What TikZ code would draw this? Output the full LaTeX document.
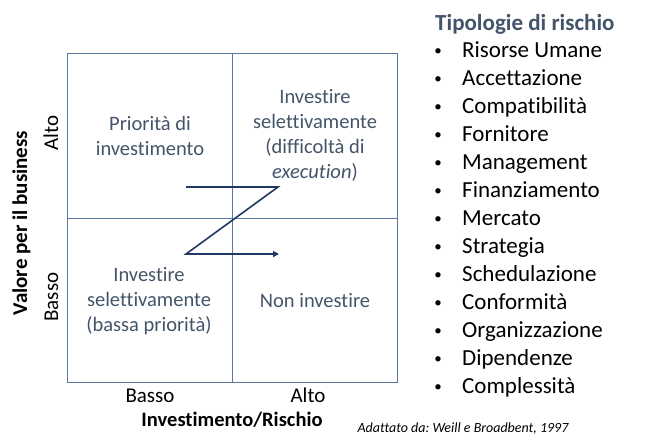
\documentclass[tikz,border=0pt]{standalone}
\usepackage{fontspec}
\setmainfont{Carlito}[Ligatures=CommonOff]
\usetikzlibrary{arrows.meta}
\definecolor{gridc}{HTML}{5A78A0}
\definecolor{cellc}{HTML}{44546A}
\definecolor{zc}{HTML}{1F3864}
\frenchspacing
\begin{document}
\begin{tikzpicture}[x=1pt,y=-1pt,
  celltext/.style={text=cellc,align=center,font=\fontsize{20.5}{25}\selectfont,inner sep=0pt},
  axlab/.style={text=black,font=\fontsize{21}{24}\selectfont,inner sep=0pt,anchor=base},
  item/.style={text=black,font=\fontsize{23}{28}\selectfont,anchor=base west,inner sep=0pt},
  bul/.style={text=black,font=\fontsize{15}{18}\selectfont,inner sep=0pt}]
\useasboundingbox (0,0) rectangle (660,445);
% grid
\draw[gridc,line width=1pt] (67,53) rectangle (397,382);
\draw[gridc,line width=0.8pt] (232,53) -- (232,382);
\draw[gridc,line width=0.8pt] (67,218) -- (397,218);
% cell texts
\node[celltext] (q1) at (150,135.5) {Priorità di\\investimento};
\node[celltext] (q2) at (315,135) {Investire\\selettivamente\\(difficoltà di\\\textit{execution})};
\node[celltext] (q3) at (149,301) {Investire\\selettivamente\\(bassa priorità)};
\node[celltext] (q4) at (315,301) {Non investire};
% Z arrow
\coordinate (z1) at (186,187);
\coordinate (z2) at (278,187);
\coordinate (z3) at (186,254);
\coordinate (z4) at (279,254);
\draw[zc,line width=1.6pt,-{Triangle[length=6pt,width=6pt]}] (z1) -- (z2) -- (z3) -- (z4);
% axis labels
\node[axlab,rotate=90] (yalto) at (58,133) {Alto};
\node[axlab,rotate=90] (ybasso) at (58,297) {Basso};
\node[axlab,rotate=90,font=\fontsize{21}{24}\selectfont\bfseries] (ytitle) at (27,223) {Valore per il business};
\node[axlab] (xbasso) at (150,402) {Basso};
\node[axlab] (xalto) at (308,402) {Alto};
\node[axlab,font=\fontsize{20.5}{24}\selectfont\bfseries] (xtitle) at (232,426) {Investimento/Rischio};
\node[inner sep=0pt,anchor=base,font=\fontsize{14}{16}\selectfont\itshape] (src) at (463,432) {Adattato da: Weill e Broadbent, 1997};
% list
\node[anchor=base west,inner sep=0pt,text=cellc,font=\fontsize{23}{28}\selectfont\bfseries] (title) at (435,30) {Tipologie di rischio};
\foreach \t [count=\i] in {Risorse Umane,Accettazione,Compatibilità,Fornitore,Management,Finanziamento,Mercato,Strategia,Schedulazione,Conformità,Organizzazione,Dipendenze,Complessità}{
  \node[bul] (b\i) at (438,{52+28*(\i-1)}) {•};
  \node[item] (i\i) at (462,{57+28*(\i-1)}) {\t};
}
\end{tikzpicture}
\end{document}
